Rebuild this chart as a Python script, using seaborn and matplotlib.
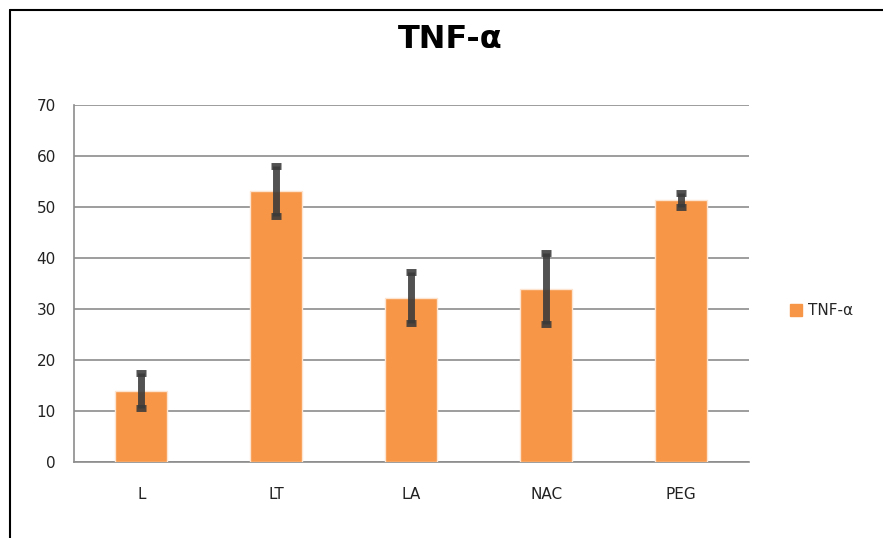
import numpy as np
import pandas as pd
import seaborn as sns
from matplotlib import pyplot as plt
from matplotlib.lines import Line2D
from matplotlib.ticker import MultipleLocator, FixedLocator

# === DATA ===
groups = ['L', 'LT', 'LA', 'NAC', 'PEG']
tnf_mean = [14.0, 53.2, 32.2, 34.0, 51.3]
tnf_err = [3.5, 4.9, 5.0, 7.0, 1.4]
series_name = 'TNF-\u03b1'

ORANGE = '#F79646'
GRID = '#8C8C8C'

df = pd.DataFrame({'group': groups, 'value': tnf_mean, 'err': tnf_err})

# === PLOT ===
sns.set_style('white')
plt.rcParams['font.family'] = ['DejaVu Sans']

fig = plt.figure(figsize=(8.83, 5.38), dpi=100)
ax = fig.add_axes([0.0838, 0.1413, 0.764, 0.6636])

sns.barplot(data=df, x='group', y='value', color=ORANGE, width=0.385,
            saturation=1, errorbar=None, edgecolor='#FCE4D0', linewidth=1,
            ax=ax, zorder=3)

xpos = np.arange(len(groups))
ax.errorbar(xpos, df['value'], yerr=df['err'], fmt='none',
            ecolor='#3A3A3A', elinewidth=5, capsize=3.5, capthick=5,
            alpha=0.88, zorder=4)

ax.set_ylim(0, 70)
ax.set_xlim(-0.5, len(groups) - 0.5)
ax.yaxis.set_major_locator(MultipleLocator(10))
ax.grid(axis='y', color=GRID, linewidth=1.2, zorder=0)
ax.set_axisbelow(True)

for side in ['top', 'right']:
    ax.spines[side].set_visible(False)
for side in ['left', 'bottom']:
    ax.spines[side].set_color(GRID)
    ax.spines[side].set_linewidth(1.2)

ax.set_xlabel('')
ax.set_ylabel('')
ax.tick_params(axis='x', which='major', length=0, pad=18, labelsize=11,
               colors='#222222')
ax.xaxis.set_minor_locator(FixedLocator(np.arange(-0.5, len(groups), 1.0)))
ax.tick_params(axis='x', which='minor', length=7, width=1.2, color=GRID,
               direction='out')
ax.tick_params(axis='y', length=7, width=1.2, color=GRID, pad=6,
               labelsize=11, labelcolor='#222222')

fig.suptitle(series_name, x=0.51, y=0.955, fontsize=23, fontweight='bold',
             color='black')

handle = Line2D([], [], marker='s', linestyle='none', markersize=8,
                markerfacecolor=ORANGE, markeredgecolor=ORANGE)
fig.legend([handle], [series_name], loc='center left',
           bbox_to_anchor=(0.877, 0.422), frameon=False, fontsize=11,
           handletextpad=0.3, handlelength=1.0)

# outer frame (left and top edges)
fig.add_artist(Line2D([0.0115, 0.0115], [0.0, 0.981], color='black',
                      linewidth=1.5, transform=fig.transFigure))
fig.add_artist(Line2D([0.0115, 1.0], [0.981, 0.981], color='black',
                      linewidth=1.5, transform=fig.transFigure))

fig.savefig('out.png', dpi=100)
